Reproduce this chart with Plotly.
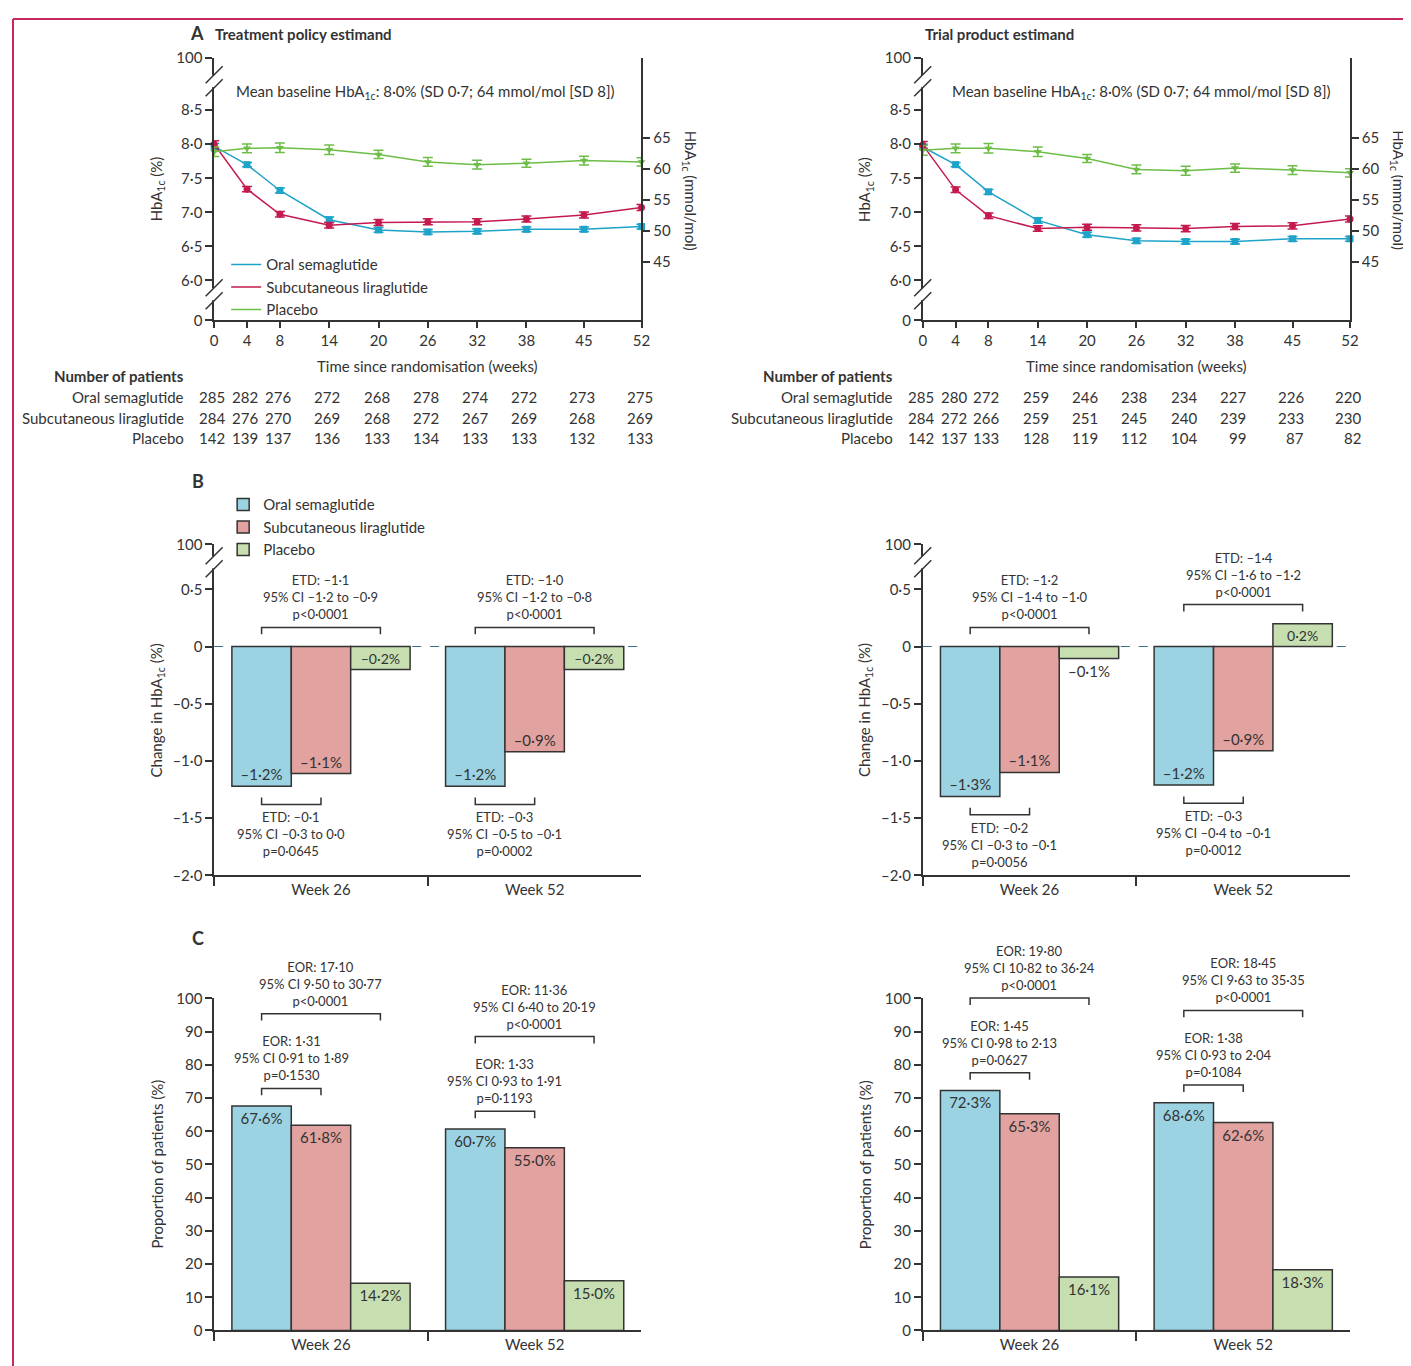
import plotly.graph_objects as go

FW, FH = 1411, 1366
# the figure lands on the page slightly shifted and scaled; positions below are
# given in page pixels and mapped back to figure coordinates
OX, OY, SX, SY = 12.0, 17.8, 0.990, 0.9866
FONT = "Lato, 'Open Sans', sans-serif"
INK = "#333333"

# ---------------- data ----------------
weeks = [0, 4, 8, 14, 20, 26, 32, 38, 45, 52]

# A: HbA1c (%) over time, treatment policy estimand
tp_oral = [7.97, 7.70, 7.32, 6.89, 6.74, 6.71, 6.72, 6.75, 6.75, 6.79]
tp_lira = [8.00, 7.34, 6.97, 6.81, 6.85, 6.86, 6.86, 6.90, 6.96, 7.07]
tp_pbo = [7.89, 7.94, 7.95, 7.92, 7.85, 7.74, 7.70, 7.72, 7.76, 7.74]
# trial product estimand
pe_oral = [7.96, 7.70, 7.30, 6.88, 6.67, 6.58, 6.57, 6.57, 6.61, 6.61]
pe_lira = [7.99, 7.33, 6.95, 6.76, 6.78, 6.77, 6.76, 6.79, 6.80, 6.90]
pe_pbo = [7.91, 7.94, 7.94, 7.89, 7.79, 7.63, 7.61, 7.65, 7.62, 7.58]
# error bar half-widths
oral_err = [0.04, 0.03, 0.035, 0.04, 0.035, 0.035, 0.035, 0.035, 0.035, 0.035]
lira_err = [0.05, 0.04, 0.04, 0.04, 0.045, 0.045, 0.045, 0.045, 0.045, 0.045]
pbo_err = [0.07, 0.065, 0.07, 0.07, 0.06, 0.065, 0.065, 0.06, 0.065, 0.06]

# number of patients
tp_n_oral = [285, 282, 276, 272, 268, 278, 274, 272, 273, 275]
tp_n_lira = [284, 276, 270, 269, 268, 272, 267, 269, 268, 269]
tp_n_pbo = [142, 139, 137, 136, 133, 134, 133, 133, 132, 133]
pe_n_oral = [285, 280, 272, 259, 246, 238, 234, 227, 226, 220]
pe_n_lira = [284, 272, 266, 259, 251, 245, 240, 239, 233, 230]
pe_n_pbo = [142, 137, 133, 128, 119, 112, 104, 99, 87, 82]

# B: change in HbA1c (%)
visits = ["Week 26", "Week 52"]
tp_chg_oral = [-1.22, -1.22]
tp_chg_lira = [-1.11, -0.92]
tp_chg_pbo = [-0.20, -0.20]
pe_chg_oral = [-1.31, -1.21]
pe_chg_lira = [-1.10, -0.91]
pe_chg_pbo = [-0.105, 0.20]

tp_etd_pbo = ["ETD: –1·1<br>95% CI –1·2 to –0·9<br>p&lt;0·0001",
              "ETD: –1·0<br>95% CI –1·2 to –0·8<br>p&lt;0·0001"]
tp_etd_lira = ["ETD: –0·1<br>95% CI –0·3 to 0·0<br>p=0·0645",
               "ETD: –0·3<br>95% CI –0·5 to –0·1<br>p=0·0002"]
pe_etd_pbo = ["ETD: –1·2<br>95% CI –1·4 to –1·0<br>p&lt;0·0001",
              "ETD: –1·4<br>95% CI –1·6 to –1·2<br>p&lt;0·0001"]
pe_etd_lira = ["ETD: –0·2<br>95% CI –0·3 to –0·1<br>p=0·0056",
               "ETD: –0·3<br>95% CI –0·4 to –0·1<br>p=0·0012"]

# C: proportion of patients (%)
tp_prop_oral = [67.6, 60.7]
tp_prop_lira = [61.8, 55.0]
tp_prop_pbo = [14.2, 15.0]
pe_prop_oral = [72.3, 68.6]
pe_prop_lira = [65.3, 62.6]
pe_prop_pbo = [16.1, 18.3]

tp_eor_pbo = ["EOR: 17·10<br>95% CI 9·50 to 30·77<br>p&lt;0·0001",
              "EOR: 11·36<br>95% CI 6·40 to 20·19<br>p&lt;0·0001"]
tp_eor_lira = ["EOR: 1·31<br>95% CI 0·91 to 1·89<br>p=0·1530",
               "EOR: 1·33<br>95% CI 0·93 to 1·91<br>p=0·1193"]
pe_eor_pbo = ["EOR: 19·80<br>95% CI 10·82 to 36·24<br>p&lt;0·0001",
              "EOR: 18·45<br>95% CI 9·63 to 35·35<br>p&lt;0·0001"]
pe_eor_lira = ["EOR: 1·45<br>95% CI 0·98 to 2·13<br>p=0·0627",
               "EOR: 1·38<br>95% CI 0·93 to 2·04<br>p=0·1084"]

groups = ["Oral semaglutide", "Subcutaneous liraglutide", "Placebo"]
line_cols = ["#1ea3c9", "#c41a4d", "#6dbd46"]
bar_cols = ["#9bd3e3", "#e2a2a0", "#c7dfb0"]
symbols = ["square", "circle", "triangle-down"]

# left axis of A: broken axis, 0 and 100 sit at the ends
A_LO, A_HI = 5.412, 9.265
a_tickvals = [A_LO, 6.0, 6.5, 7.0, 7.5, 8.0, 8.5, A_HI]
a_ticktext = ["0", "6·0", "6·5", "7·0", "7·5", "8·0", "8·5", "100"]
mmol_ticks = [45, 50, 55, 60, 65]
B_RANGE = [-2.0, 0.893]
b_tickvals = [-2.0, -1.5, -1.0, -0.5, 0, 0.5, B_RANGE[1]]
b_ticktext = ["–2·0", "–1·5", "–1·0", "–0·5", "0", "0·5", "100"]
C_RANGE = [0, 100]

# ---------------- geometry (page pixels) ----------------
COLS = [(214, 641), (922, 1349)]
ROW_A = (58, 320)
ROW_B = (544, 875)
ROW_C = (998, 1330)
BARGAP = 0.166
BAR_W = (1 - BARGAP) / 3


def fx(p):
    return (p - OX) / SX / FW


def fy(p):
    return 1 - (p - OY) / SY / FH


def xpaper(col, xv):
    a, b = COLS[col]
    return fx(a + (xv + 0.5) / 2 * (b - a))


def ypaper(row, rng, v):
    top, bot = row
    return fy(bot - (v - rng[0]) / (rng[1] - rng[0]) * (bot - top))


def pct(v):
    return f"{v:.1f}".replace(".", "·").replace("-", "–") + "%"


fig = go.Figure()
shapes = []
annots = []


def txt(x, y, text, size=15, xanchor="center", yanchor="middle", bold=False, angle=0, xref="paper", xshift=0):
    if bold:
        text = "<b>" + text + "</b>"
    annots.append(dict(x=x, y=y, xref=xref, yref="paper", text=text, showarrow=False,
                       xanchor=xanchor, yanchor=yanchor, textangle=angle, xshift=xshift,
                       font=dict(size=size, color=INK, family=FONT)))


# ---------------- panel A ----------------
a_sets = [
    (0, "x", "y", "y2", [tp_oral, tp_lira, tp_pbo], [tp_n_oral, tp_n_lira, tp_n_pbo]),
    (1, "x2", "y3", "y4", [pe_oral, pe_lira, pe_pbo], [pe_n_oral, pe_n_lira, pe_n_pbo]),
]
errs = [oral_err, lira_err, pbo_err]
for col, xa, ya, ya2, series, counts in a_sets:
    for i, s in enumerate(series):
        fig.add_trace(go.Scatter(
            x=weeks, y=s, xaxis=xa, yaxis=ya, mode="lines+markers", showlegend=False,
            line=dict(color=line_cols[i], width=1.5),
            marker=dict(symbol=symbols[i], size=7, color=line_cols[i]),
            error_y=dict(type="data", array=errs[i], color=line_cols[i], thickness=1.5, width=5),
            cliponaxis=False, name=groups[i]))
    fig.add_trace(go.Scatter(x=[None], y=[None], xaxis=xa, yaxis=ya2, showlegend=False, hoverinfo="skip"))
    # patients table
    c0 = COLS[col][0]
    txt(fx(c0 - 28), fy(376), "Number of patients", xanchor="right", bold=True)
    for r, (g, ns) in enumerate(zip(groups, counts)):
        yy = fy(397 + r * 20.5)
        txt(fx(c0 - 28), yy, g, xanchor="right")
        for wk, n in zip(weeks, ns):
            txt(wk, yy, str(n), xanchor="right", xref=xa, xshift=13)
    cx = (COLS[col][0] + COLS[col][1]) / 2
    txt(fx(cx), fy(366), "Time since randomisation (weeks)")
    txt(fx(c0 - 57), fy(189), "HbA<sub>1c</sub> (%)", angle=-90)
    txt(fx(COLS[col][1] + 48), fy(190), "HbA<sub>1c</sub> (mmol/mol)", angle=90)
    txt(fx(c0 + 20 + col * 7), fy(92), "Mean baseline HbA<sub>1c</sub>: 8·0% (SD 0·7; 64 mmol/mol [SD 8])",
        xanchor="left")

# legend entries for the line panel
for i, g in enumerate(groups):
    fig.add_trace(go.Scatter(x=[None], y=[None], xaxis="x", yaxis="y", mode="lines", name=g,
                             line=dict(color=line_cols[i], width=1.5), legend="legend"))

txt(fx(188), fy(33), "A", size=18, xanchor="left", bold=True)
txt(fx(213), fy(34), "Treatment policy estimand", xanchor="left", bold=True)
txt(fx(922), fy(34), "Trial product estimand", xanchor="left", bold=True)
txt(fx(190), fy(481), "B", size=18, xanchor="left", bold=True)
txt(fx(190), fy(938), "C", size=18, xanchor="left", bold=True)

# ---------------- panels B and C ----------------
b_sets = [
    (0, "x3", "y5", [tp_chg_oral, tp_chg_lira, tp_chg_pbo], tp_etd_pbo, tp_etd_lira, True),
    (1, "x4", "y6", [pe_chg_oral, pe_chg_lira, pe_chg_pbo], pe_etd_pbo, pe_etd_lira, False),
]
c_sets = [
    (0, "x5", "y7", [tp_prop_oral, tp_prop_lira, tp_prop_pbo], tp_eor_pbo, tp_eor_lira),
    (1, "x6", "y8", [pe_prop_oral, pe_prop_lira, pe_prop_pbo], pe_eor_pbo, pe_eor_lira),
]


def bracket(col, row, rng, cat, k2, yv, text, up):
    # from the oral bar (offset -1) to bar k2 (0 = liraglutide, 1 = placebo)
    x1 = xpaper(col, cat - BAR_W)
    x2 = xpaper(col, cat + k2 * BAR_W)
    y = ypaper(row, rng, yv)
    leg = (-7 if up else 7) / FH
    shapes.append(dict(type="path", xref="paper", yref="paper",
                       path=f"M{x1},{y + leg} L{x1},{y} L{x2},{y} L{x2},{y + leg}",
                       line=dict(color=INK, width=1.5)))
    annots.append(dict(xref="paper", yref="paper", x=(x1 + x2) / 2, y=y, text=text, showarrow=False,
                       xanchor="center", yanchor="bottom" if up else "top", yshift=3 if up else -3,
                       font=dict(size=13, color=INK, family=FONT)))


for col, xa, ya, series, etd_p, etd_l, leg in b_sets:
    for i, s in enumerate(series):
        pos = ["inside" if abs(v) > 0.15 else "outside" for v in s]
        fig.add_trace(go.Bar(
            x=visits, y=s, xaxis=xa, yaxis=ya, name=groups[i], showlegend=leg, legend="legend2",
            marker=dict(color=bar_cols[i], line=dict(color=INK, width=1.5)),
            text=[pct(v) for v in s], textposition=pos, insidetextanchor="end",
            textfont=dict(size=15, color=INK, family=FONT), cliponaxis=False))
    for cat in range(2):
        vals = [s[cat] for s in series]
        bracket(col, ROW_B, B_RANGE, cat, 1, max(0, max(vals)) + 0.167, etd_p[cat], True)
        bracket(col, ROW_B, B_RANGE, cat, 0, min(vals) - 0.16, etd_l[cat], False)
    c0 = COLS[col][0]
    txt(fx(c0 - 57), fy(710), "Change in HbA<sub>1c</sub> (%)", angle=-90)
    shapes.append(dict(type="line", xref="paper", yref="paper", x0=fx(COLS[col][0]), x1=fx(COLS[col][1]),
                       y0=ypaper(ROW_B, B_RANGE, 0), y1=ypaper(ROW_B, B_RANGE, 0), layer="below",
                       line=dict(color="#3d6e8c", width=1.2, dash="dash")))

for col, xa, ya, series, eor_p, eor_l in c_sets:
    for i, s in enumerate(series):
        fig.add_trace(go.Bar(
            x=visits, y=s, xaxis=xa, yaxis=ya, name=groups[i], showlegend=False,
            marker=dict(color=bar_cols[i], line=dict(color=INK, width=1.5)),
            text=[pct(v) for v in s], textposition="inside", insidetextanchor="end",
            textfont=dict(size=15, color=INK, family=FONT), cliponaxis=False))
    for cat in range(2):
        low = series[0][cat] + 5.3
        bracket(col, ROW_C, C_RANGE, cat, 0, low, eor_l[cat], True)
        bracket(col, ROW_C, C_RANGE, cat, 1, low + 22.5, eor_p[cat], True)
    txt(fx(COLS[col][0] - 57), fy(1164), "Proportion of patients (%)", angle=-90)


# ---------------- axis breaks ----------------
def axis_break(xp, ymid):
    shapes.append(dict(type="rect", xref="paper", yref="paper", x0=fx(xp - 3), x1=fx(xp + 3),
                       y0=fy(ymid - 6), y1=fy(ymid + 6), fillcolor="white", line=dict(width=0), layer="above"))
    for dy in (-6.5, 6.5):
        yc = ymid + dy
        shapes.append(dict(type="line", xref="paper", yref="paper", x0=fx(xp - 8.5), x1=fx(xp + 8.5),
                           y0=fy(yc + 8.5), y1=fy(yc - 8.5), line=dict(color=INK, width=1.5), layer="above"))


for col in range(2):
    axis_break(COLS[col][0], 81)
    axis_break(COLS[col][0], 294)
    axis_break(COLS[col][0], 562)

# page frame (as close to the top-left corner as the figure reaches)
shapes.append(dict(type="line", xref="paper", yref="paper", x0=1 / FW, x1=1, y0=1 - 1 / FH, y1=1 - 1 / FH,
                   line=dict(color="#c8285a", width=2)))
shapes.append(dict(type="line", xref="paper", yref="paper", x0=1 / FW, x1=1 / FW, y0=1 - 1 / FH, y1=0,
                   line=dict(color="#c8285a", width=2)))

# ---------------- axes ----------------
axbase = dict(showgrid=False, zeroline=False, showline=True, linecolor=INK, linewidth=1.5,
              ticks="outside", tickcolor=INK, tickwidth=1.5, ticklen=7,
              tickfont=dict(size=15, color=INK, family=FONT))


def dom_x(col):
    return [fx(COLS[col][0]), fx(COLS[col][1])]


def dom_y(row):
    return [fy(row[1]), fy(row[0])]


mmol_vals = [m / 10.929 + 2.15 for m in mmol_ticks]
layout_axes = {}
for col, (xa, ya, ya2) in enumerate([("xaxis", "yaxis", "yaxis2"), ("xaxis2", "yaxis3", "yaxis4")]):
    xid = "x" if col == 0 else "x2"
    yid = "y" if col == 0 else "y3"
    layout_axes[xa] = dict(axbase, domain=dom_x(col), anchor=yid, range=[0, 52], tickvals=weeks, ticklen=6)
    layout_axes[ya] = dict(axbase, domain=dom_y(ROW_A), anchor=xid, range=[A_LO, A_HI],
                           tickvals=a_tickvals, ticktext=a_ticktext)
    layout_axes[ya2] = dict(axbase, overlaying=yid, side="right", anchor=xid, range=[A_LO, A_HI],
                            tickvals=mmol_vals, ticktext=[str(m) for m in mmol_ticks])

for n, (col, row, rng, tv, tt) in enumerate([
        (0, ROW_B, B_RANGE, b_tickvals, b_ticktext), (1, ROW_B, B_RANGE, b_tickvals, b_ticktext),
        (0, ROW_C, C_RANGE, list(range(0, 101, 10)), [str(v) for v in range(0, 101, 10)]),
        (1, ROW_C, C_RANGE, list(range(0, 101, 10)), [str(v) for v in range(0, 101, 10)])]):
    xi = n + 3
    yi = n + 5
    layout_axes[f"xaxis{xi}"] = dict(axbase, domain=dom_x(col), anchor=f"y{yi}", type="category",
                                     range=[-0.5, 1.5], tickson="boundaries", ticklen=9)
    layout_axes[f"yaxis{yi}"] = dict(axbase, domain=dom_y(row), anchor=f"x{xi}", range=rng,
                                     tickvals=tv, ticktext=tt)

fig.update_layout(
    width=FW, height=FH, margin=dict(l=0, r=0, t=0, b=0),
    paper_bgcolor="white", plot_bgcolor="rgba(0,0,0,0)",
    font=dict(family=FONT, size=15, color=INK),
    barmode="group", bargap=BARGAP, bargroupgap=0,
    legend=dict(x=fx(226), y=fy(248), xanchor="left", yanchor="top", bgcolor="rgba(0,0,0,0)",
                font=dict(size=15, color=INK), tracegroupgap=0, itemwidth=30),
    legend2=dict(x=fx(223), y=fy(488), xanchor="left", yanchor="top", bgcolor="rgba(0,0,0,0)",
                 font=dict(size=15, color=INK), tracegroupgap=0, traceorder="normal"),
    shapes=shapes, annotations=annots,
    **layout_axes,
)

fig.write_html("out.html")
